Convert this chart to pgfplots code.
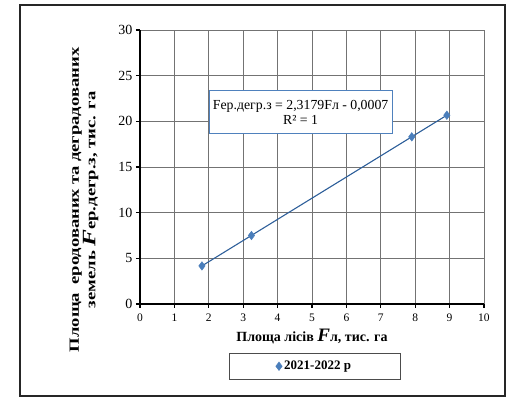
\documentclass[border=0pt]{standalone}
\usepackage{pgfplots}
\pgfplotsset{compat=1.18}
\usepackage{graphicx}
\usepackage{fontspec}
\setmainfont{Liberation Serif}
\definecolor{mk}{HTML}{4A7EBB}
\definecolor{ln}{HTML}{2E5F9A}
\definecolor{bx}{HTML}{4F81BD}
\newcommand{\bigF}{{\fontsize{19}{20}\selectfont\itshape F}}
\begin{document}
\begin{tikzpicture}[x=1pt,y=1pt]
\begin{axis}[
  at={(0,0)}, anchor=origin,
  scale only axis, width=344pt, height=274pt,
  xmin=0, xmax=10, ymin=0, ymax=30,
  xtick={0,1,...,10}, ytick={0,5,...,30},
  xticklabel={\pgfmathparse{int(round(\tick))}\pgfmathresult},
  yticklabel={\pgfmathparse{int(round(\tick))}\pgfmathresult},
  grid=major, grid style={draw=black!55, line width=0.6pt},
  axis x line*=bottom, axis y line*=left,
  axis line style={-, line width=1.6pt, black},
  tick align=outside, major tick length=4pt,
  tick style={black, line width=1.2pt},
  xticklabel style={font=\fontsize{11.5}{12}\selectfont, yshift=-2pt},
  yticklabel style={font=\fontsize{14}{15}\selectfont},
  xlabel={Площа лісів \bigF л, тис. га},
  xlabel style={font=\bfseries\fontsize{14}{16}\selectfont, at={(axis description cs:0.5,0)}, anchor=north, yshift=-22pt},
  ylabel={\scalebox{1.33}[1]{\begin{tabular}{@{}c@{}}\makebox[229pt][s]{Площа\ \ еродованих та деградованих}\\[-1pt] земель \bigF ер.дегр.з, тис. га\end{tabular}}},
  ylabel style={font=\bfseries\fontsize{14}{17}\selectfont, at={(axis description cs:0,0.38)}, anchor=south, yshift=36pt},
  legend style={at={(axis description cs:0.507,0)}, anchor=north, yshift=-49pt,
    draw=black!70, inner xsep=47pt, inner ysep=6pt,
    font=\bfseries\fontsize{13}{14}\selectfont},
  legend image code/.code={\draw[#1] plot coordinates {(0.1cm,0cm)};},
]
\addplot[ln, line width=1.1pt, forget plot] coordinates {(1.8,4.17) (8.92,20.67)};
\addplot[only marks, mark=diamond*, mark size=4.3pt, mk, draw=mk] coordinates {
(1.8,4.17) (3.24,7.5) (7.9,18.3) (8.92,20.67)};
\addlegendentry{2021-2022 р}
\node[draw=bx, line width=0.8pt, fill=white, align=center, minimum width=183pt, minimum height=43pt, inner sep=1pt,
  font=\fontsize{13.8}{15}\selectfont] at (axis cs:4.67,21.0)
  {Fер.дегр.з = 2,3179Fл - 0,0007\\R² = 1};
\end{axis}
\draw[black!85, line width=1.2pt] (-120,-92) rectangle (365,299);
\useasboundingbox (-140,-95) rectangle (367,304);
\end{tikzpicture}
\end{document}
